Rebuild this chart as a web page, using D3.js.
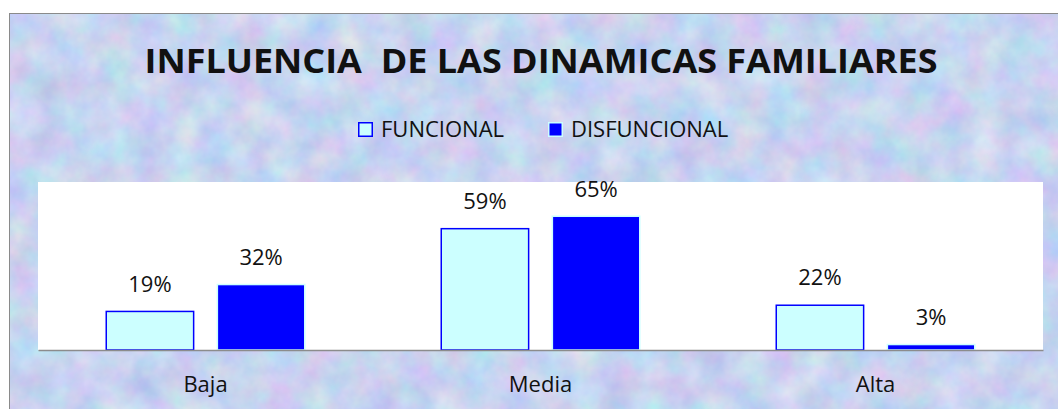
<!DOCTYPE html>
<html lang="es">
<head>
<meta charset="UTF-8">
<title>Influencia de las dinamicas familiares</title>
<style>
    body { margin: 0; background: #fff; }
    svg { display: block; }
    text { font-family: 'Open Sans', 'Noto Sans', sans-serif; fill: #111; }
</style>
</head>
<body>
<div id="chart"></div>
<script src="https://d3js.org/d3.v7.min.js"></script>
<script>
    const categories = ["Baja", "Media", "Alta"];
    const series = ["FUNCIONAL", "DISFUNCIONAL"];
    const funcional = [0.19, 0.59, 0.22];
    const disfuncional = [0.32, 0.65, 0.03];
    const values = [funcional, disfuncional];

    const width = 1058, height = 409;
    const plot = { left: 38, right: 1043, top: 182, bottom: 350 };

    const svg = d3.select("#chart").append("svg")
        .attr("width", width)
        .attr("height", height);

    // mottled paper texture behind the chart
    const defs = svg.append("defs");
    const f = defs.append("filter").attr("id", "paper")
        .attr("color-interpolation-filters", "sRGB")
        .attr("x", 0).attr("y", 0).attr("width", "100%").attr("height", "100%");
    f.append("feTurbulence").attr("type", "fractalNoise")
        .attr("baseFrequency", 0.03).attr("numOctaves", 4).attr("seed", 7);
    f.append("feColorMatrix").attr("type", "matrix")
        .attr("values", "0.28 0 0 0 0.64  0 0.22 0 0 0.72  0 0 0.1 0 0.89  0 0 0 0 1");

    svg.append("rect")
        .attr("x", 9).attr("y", 13)
        .attr("width", width).attr("height", height)
        .attr("filter", "url(#paper)");
    svg.append("rect")
        .attr("x", 9.5).attr("y", 13.5)
        .attr("width", width + 10).attr("height", height + 10)
        .attr("fill", "none").attr("stroke", "#8a8a8a").attr("stroke-width", 1);

    svg.append("text")
        .attr("x", 541).attr("y", 73)
        .attr("text-anchor", "middle")
        .attr("font-size", 34).attr("font-weight", "bold")
        .attr("textLength", 793).attr("lengthAdjust", "spacingAndGlyphs")
        .style("white-space", "pre")
        .text("INFLUENCIA  DE LAS DINAMICAS FAMILIARES");

    // legend
    const fills = { FUNCIONAL: "#CCFFFF", DISFUNCIONAL: "#0000FF" };
    const strokes = { FUNCIONAL: "#0000FF", DISFUNCIONAL: "#CCFFFF" };
    const legendX = [358, 548];
    const legend = svg.append("g").selectAll("g").data(series).enter().append("g")
        .attr("transform", (d, i) => `translate(${legendX[i]},122)`);
    legend.append("rect")
        .attr("x", 0.75).attr("y", 0.75).attr("width", 13.5).attr("height", 13.5)
        .attr("fill", d => fills[d]).attr("stroke", d => strokes[d]).attr("stroke-width", 1.5);
    legend.append("text")
        .attr("x", 23).attr("y", 15)
        .attr("font-size", 22)
        .text(d => d);

    // plot area
    svg.append("rect")
        .attr("x", plot.left).attr("y", plot.top)
        .attr("width", plot.right - plot.left).attr("height", plot.bottom - plot.top)
        .attr("fill", "#fff");

    const x0 = d3.scaleBand().domain(categories).range([plot.left, plot.right]);
    const x1 = d3.scaleBand().domain(series)
        .range([(x0.bandwidth() - 200) / 2, (x0.bandwidth() + 200) / 2])
        .paddingInner(0.2);
    const y = d3.scaleLinear().domain([0, 0.812]).range([plot.bottom, plot.top]);

    const rows = [];
    series.forEach((s, si) => categories.forEach((c, ci) => rows.push({ s, c, v: values[si][ci] })));

    const bars = svg.append("g");
    bars.selectAll("rect").data(rows).enter().append("rect")
        .attr("x", d => x0(d.c) + x1(d.s) + 0.75)
        .attr("y", d => y(d.v) + 0.75)
        .attr("width", x1.bandwidth() - 1.5)
        .attr("height", d => Math.max(0, plot.bottom - y(d.v) - 0.75))
        .attr("fill", d => fills[d.s])
        .attr("stroke", d => strokes[d.s])
        .attr("stroke-width", 1.5);

    bars.selectAll("text").data(rows).enter().append("text")
        .attr("x", d => x0(d.c) + x1(d.s) + x1.bandwidth() / 2)
        .attr("y", d => y(d.v) - 19)
        .attr("text-anchor", "middle")
        .attr("font-size", 22)
        .text(d => d3.format(".0%")(d.v));

    // category axis
    const xAxis = svg.append("g")
        .attr("transform", `translate(0,${plot.bottom})`)
        .call(d3.axisBottom(x0).tickSize(0).tickPadding(26));
    xAxis.select(".domain").attr("stroke", "#8c8c8c").attr("stroke-width", 1.5);
    xAxis.selectAll("text")
        .attr("font-size", 22)
        .style("font-family", "'Open Sans', 'Noto Sans', sans-serif")
        .attr("fill", "#111");
</script>
</body>
</html>
